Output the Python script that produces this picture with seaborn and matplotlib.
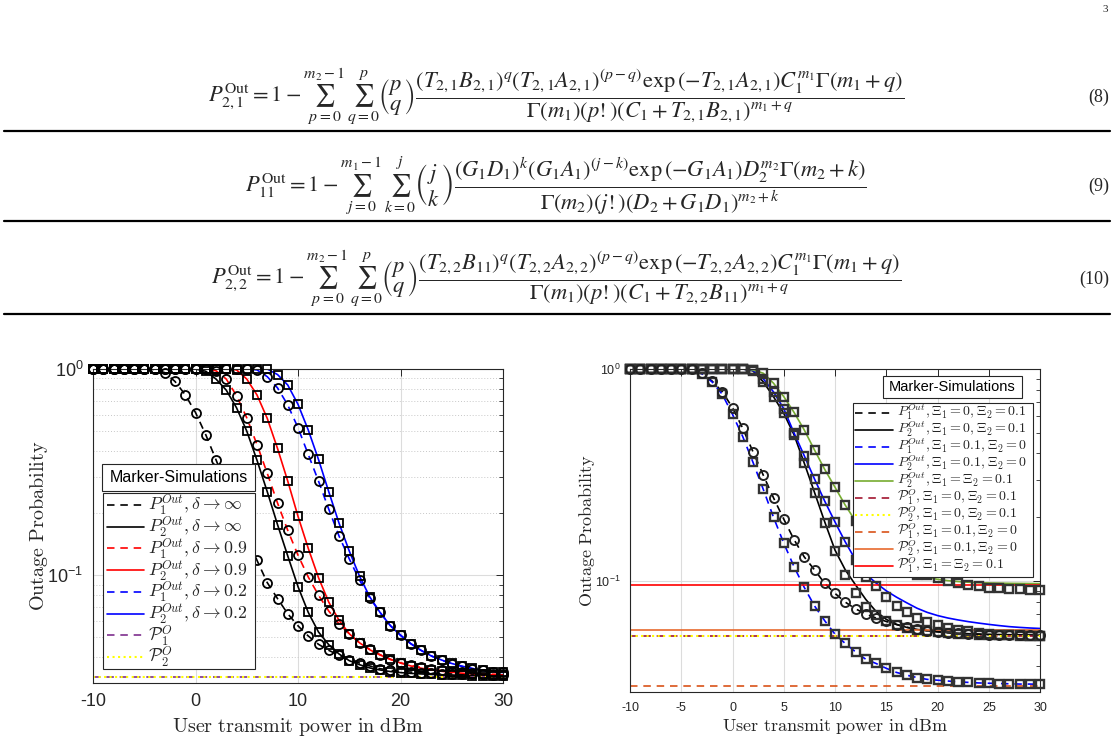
import numpy as np
import matplotlib
matplotlib.use('Agg')
import matplotlib.pyplot as plt
from matplotlib.lines import Line2D
from matplotlib.patches import Rectangle
from matplotlib.ticker import LogLocator, NullFormatter, FixedLocator
import seaborn as sns

# ---------------- data ----------------
power_dbm = list(range(-10, 31))

# left panel: effect of delta
p1_inf = [1.0, 1.0, 1.0, 1.0, 1.0, 1.0, 0.995, 0.96, 0.87, 0.75, 0.615, 0.48, 0.363, 0.27,
          0.205, 0.155, 0.118, 0.092, 0.077, 0.065, 0.0568, 0.0507, 0.0462, 0.0432, 0.0409,
          0.039, 0.0375, 0.0363, 0.0352, 0.0346, 0.0342, 0.0339, 0.0336, 0.0334, 0.0333,
          0.0332, 0.0331, 0.0330, 0.0330, 0.0329, 0.0329]
p2_inf = [1.0, 1.0, 1.0, 1.0, 1.0, 1.0, 1.0, 1.0, 1.0, 1.0, 1.0, 0.975, 0.894, 0.79, 0.649,
          0.50, 0.361, 0.254, 0.176, 0.124, 0.088, 0.066, 0.053, 0.046, 0.0415, 0.0385,
          0.0368, 0.0355, 0.0347, 0.0341, 0.0337, 0.0334, 0.0332, 0.0330, 0.0329, 0.0328,
          0.0327, 0.0326, 0.0326, 0.0325, 0.0325]
p1_09 = [1.0, 1.0, 1.0, 1.0, 1.0, 1.0, 1.0, 1.0, 1.0, 1.0, 1.0, 1.0, 0.98, 0.894, 0.743,
         0.58, 0.43, 0.312, 0.224, 0.165, 0.125, 0.098, 0.08, 0.067, 0.058, 0.052, 0.047,
         0.0437, 0.0412, 0.039, 0.0376, 0.0365, 0.0357, 0.035, 0.0345, 0.0341, 0.0338,
         0.0335, 0.0333, 0.0331, 0.033]
p2_09 = [1.0, 1.0, 1.0, 1.0, 1.0, 1.0, 1.0, 1.0, 1.0, 1.0, 1.0, 1.0, 1.0, 1.0, 0.99, 0.894,
         0.748, 0.576, 0.412, 0.286, 0.193, 0.135, 0.0973, 0.074, 0.0605, 0.052, 0.047,
         0.0435, 0.041, 0.0392, 0.0375, 0.0363, 0.0354, 0.0347, 0.0342, 0.0338, 0.0335,
         0.0332, 0.033, 0.0329, 0.0328]
p1_02 = [1.0, 1.0, 1.0, 1.0, 1.0, 1.0, 1.0, 1.0, 1.0, 1.0, 1.0, 1.0, 1.0, 1.0, 1.0, 1.0,
         0.99, 0.918, 0.81, 0.669, 0.519, 0.385, 0.286, 0.209, 0.155, 0.12, 0.0946, 0.0776,
         0.066, 0.057, 0.0513, 0.0466, 0.0432, 0.0406, 0.0387, 0.0372, 0.0361, 0.0352,
         0.0345, 0.034, 0.0338]
p2_02 = [1.0, 1.0, 1.0, 1.0, 1.0, 1.0, 1.0, 1.0, 1.0, 1.0, 1.0, 1.0, 1.0, 1.0, 1.0, 1.0,
         1.0, 1.0, 0.94, 0.836, 0.674, 0.506, 0.364, 0.254, 0.179, 0.131, 0.099, 0.0785,
         0.066, 0.057, 0.051, 0.0465, 0.0432, 0.0406, 0.0388, 0.0373, 0.0362, 0.0353,
         0.0346, 0.0341, 0.0338]
floor_left = [0.032, 0.032]   # P1^O, P2^O

# right panel: effect of Xi
r_p1_a = [1.0, 1.0, 1.0, 1.0, 1.0, 1.0, 1.0, 0.955, 0.878, 0.782, 0.657, 0.525, 0.407,
          0.316, 0.247, 0.196, 0.157, 0.13, 0.113, 0.0975, 0.0875, 0.0796, 0.074, 0.07,
          0.067, 0.0645, 0.0624, 0.0606, 0.0593, 0.0584, 0.0577, 0.0571, 0.0567, 0.0564,
          0.0561, 0.0559, 0.0558, 0.0557, 0.0556, 0.0555, 0.0555]
r_p2_a = [1.0, 1.0, 1.0, 1.0, 1.0, 1.0, 1.0, 1.0, 1.0, 1.0, 1.0, 1.0, 0.98, 0.87, 0.74,
          0.618, 0.49, 0.36, 0.262, 0.19, 0.14, 0.113, 0.096, 0.082, 0.072, 0.066, 0.0625,
          0.0605, 0.0592, 0.0583, 0.0577, 0.0572, 0.0568, 0.0565, 0.0563, 0.0561, 0.056,
          0.0559, 0.0558, 0.0557, 0.0556]
r_p2_a_sim = [1.0, 1.0, 1.0, 1.0, 1.0, 1.0, 1.0, 1.0, 1.0, 1.0, 1.0, 1.0, 0.98, 0.87, 0.74,
              0.618, 0.49, 0.36, 0.26, 0.188, 0.138, 0.107, 0.0875, 0.0757, 0.069, 0.0648,
              0.062, 0.0604, 0.059, 0.058, 0.0574, 0.0569, 0.0565, 0.0562, 0.0559, 0.0557,
              0.0555, 0.0554, 0.0553, 0.0552, 0.0552]
r_p1_b = [1.0, 1.0, 1.0, 1.0, 1.0, 1.0, 1.0, 0.95, 0.87, 0.76, 0.611, 0.48, 0.363, 0.271,
          0.2, 0.151, 0.117, 0.0934, 0.0764, 0.065, 0.0562, 0.0508, 0.0464, 0.0428, 0.0409,
          0.0388, 0.0371, 0.036, 0.0351, 0.0344, 0.0341, 0.0338, 0.0335, 0.0333, 0.0331,
          0.033, 0.0329, 0.0328, 0.0327, 0.0327, 0.0326]
r_p2_b = [1.0, 1.0, 1.0, 1.0, 1.0, 1.0, 1.0, 1.0, 1.0, 1.0, 1.0, 1.0, 0.985, 0.9, 0.78, 0.65,
          0.5, 0.39, 0.303, 0.238, 0.19, 0.153, 0.126, 0.108, 0.098, 0.09, 0.084, 0.079,
          0.0745, 0.0712, 0.0688, 0.067, 0.0656, 0.0644, 0.0634, 0.0625, 0.0617, 0.061,
          0.0605, 0.0601, 0.0598]
r_p2_b_sim = [1.0, 1.0, 1.0, 1.0, 1.0, 1.0, 1.0, 1.0, 1.0, 1.0, 1.0, 1.0, 0.985, 0.9, 0.78,
              0.65, 0.5, 0.39, 0.303, 0.238, 0.19, 0.153, 0.126, 0.105, 0.0947, 0.0843,
              0.0762, 0.0716, 0.0667, 0.0643, 0.062, 0.0602, 0.0589, 0.058, 0.0572, 0.0565,
              0.056, 0.0557, 0.0555, 0.0553, 0.0552]
r_p2_c = [1.0, 1.0, 1.0, 1.0, 1.0, 1.0, 1.0, 1.0, 1.0, 1.0, 1.0, 1.0, 0.99, 0.955, 0.857,
          0.741, 0.625, 0.516, 0.415, 0.336, 0.277, 0.228, 0.192, 0.165, 0.145, 0.13, 0.119,
          0.112, 0.107, 0.104, 0.102, 0.1005, 0.0995, 0.0988, 0.0983, 0.098, 0.0978,
          0.0976, 0.0975, 0.0974, 0.0973]
r_p2_c_sim = [1.0, 1.0, 1.0, 1.0, 1.0, 1.0, 1.0, 1.0, 1.0, 1.0, 1.0, 1.0, 0.99, 0.955, 0.857,
              0.741, 0.625, 0.516, 0.415, 0.336, 0.277, 0.228, 0.192, 0.165, 0.145, 0.13,
              0.119, 0.112, 0.107, 0.1067, 0.103, 0.0999, 0.0975, 0.0958, 0.0947, 0.093,
              0.0925, 0.092, 0.0915, 0.091, 0.091]
# floors: P1^O(0,0.1), P2^O(0,0.1), P1^O(0.1,0), P2^O(0.1,0), P1^O(0.1,0.1)
floor_right = [0.0552, 0.0552, 0.032, 0.0587, 0.0957]

left_labels = [r'$P_1^{Out}, \delta \rightarrow \infty$', r'$P_2^{Out}, \delta \rightarrow \infty$',
               r'$P_1^{Out}, \delta \rightarrow 0.9$', r'$P_2^{Out}, \delta \rightarrow 0.9$',
               r'$P_1^{Out}, \delta \rightarrow 0.2$', r'$P_2^{Out}, \delta \rightarrow 0.2$',
               r'$\mathcal{P}_1^{O}$', r'$\mathcal{P}_2^{O}$']
right_labels = [r'$P_1^{Out}, \Xi_1 = 0, \Xi_2 = 0.1$', r'$P_2^{Out}, \Xi_1 = 0, \Xi_2 = 0.1$',
                r'$P_1^{Out}, \Xi_1 = 0.1, \Xi_2 = 0$', r'$P_2^{Out}, \Xi_1 = 0.1, \Xi_2 = 0$',
                r'$P_2^{Out}, \Xi_1 = \Xi_2 = 0.1$',
                r'$\mathcal{P}_1^{O}, \Xi_1 = 0, \Xi_2 = 0.1$', r'$\mathcal{P}_2^{O}, \Xi_1 = 0, \Xi_2 = 0.1$',
                r'$\mathcal{P}_1^{O}, \Xi_1 = 0.1, \Xi_2 = 0$', r'$\mathcal{P}_2^{O}, \Xi_1 = 0.1, \Xi_2 = 0$',
                r'$\mathcal{P}_1^{O}, \Xi_1 = \Xi_2 = 0.1$']

BLUE, RED, GREEN = '#0000ff', '#ff0000', '#77ac30'
PURPLE, YELLOW, DRED, ORANGE, ORANGE2 = '#7e2f8e', '#ffff00', '#a2142f', '#d95319', '#e8692d'
DASH = (4.5, 3.5)
LW = 1.2

# ---------------- style ----------------
sns.set_theme(style='white')
plt.rcParams['font.family'] = ['Liberation Sans', 'DejaVu Sans']
plt.rcParams['mathtext.fontset'] = 'cm'
plt.rcParams['axes.unicode_minus'] = False

W, H = 1116, 751
fig = plt.figure(figsize=(W / 100, H / 100), dpi=100)


def fx(px):
    return px / W


def fy(py):
    return 1 - py / H


# ---------------- equations ----------------
eq8 = (r"$P_{2,1}^{\mathrm{Out}}=1-\sum_{p=0}^{m_2-1}\,\sum_{q=0}^{p}\genfrac{(}{)}{0}{0}{p}{q}"
       r"\dfrac{\left(T_{2,1}B_{2,1}\right)^{q}\left(T_{2,1}A_{2,1}\right)^{(p-q)}\exp\left(-T_{2,1}A_{2,1}\right)C_1^{m_1}\Gamma\left(m_1+q\right)}"
       r"{\Gamma(m_1)(p!)\left(C_1+T_{2,1}B_{2,1}\right)^{m_1+q}}$")
eq9 = (r"$P_{11}^{\mathrm{Out}}=1-\sum_{j=0}^{m_1-1}\,\sum_{k=0}^{j}\genfrac{(}{)}{0}{0}{j}{k}"
       r"\dfrac{\left(G_1D_1\right)^{k}\left(G_1A_1\right)^{(j-k)}\exp\left(-G_1A_1\right)D_2^{m_2}\Gamma\left(m_2+k\right)}"
       r"{\Gamma(m_2)(j!)\left(D_2+G_1D_1\right)^{m_2+k}}$")
eq10 = (r"$P_{2,2}^{\mathrm{Out}}=1-\sum_{p=0}^{m_2-1}\,\sum_{q=0}^{p}\genfrac{(}{)}{0}{0}{p}{q}"
        r"\dfrac{\left(T_{2,2}B_{11}\right)^{q}\left(T_{2,2}A_{2,2}\right)^{(p-q)}\exp\left(-T_{2,2}A_{2,2}\right)C_1^{m_1}\Gamma\left(m_1+q\right)}"
        r"{\Gamma(m_1)(p!)\left(C_1+T_{2,2}B_{11}\right)^{m_1+q}}$")

for eq, num, yc, yr in [(eq8, '(8)', 97, 131), (eq9, '(9)', 186, 221), (eq10, '(10)', 279, 314)]:
    fig.text(fx(556), fy(yc), eq, ha='center', va='center', fontsize=16.2, math_fontfamily='stix')
    fig.text(fx(1109), fy(yc), num, ha='right', va='center', fontsize=13, family='Liberation Serif')
    fig.add_artist(Line2D([fx(4), fx(1110)], [fy(yr), fy(yr)], color='black', lw=1.6))

fig.text(fx(1108), fy(10), '3', ha='right', va='center', fontsize=8, family='Liberation Serif')

# ---------------- axes ----------------
ax1 = fig.add_axes([fx(93), fy(683), fx(410), 314 / H])
ax2 = fig.add_axes([fx(630), fy(692), fx(410), 323 / H])


def style_axes(ax, xticks, labelsize, minor_grid):
    ax.set_yscale('log')
    ax.set_xlim(-10, 30)
    ax.set_ylim(0.03, 1)
    ax.set_xticks(xticks)
    ax.set_xticklabels([str(t) for t in xticks])
    ax.yaxis.set_major_locator(FixedLocator([0.1, 1.0]))
    ax.yaxis.set_minor_locator(LogLocator(base=10, subs=np.arange(2, 10)))
    ax.yaxis.set_minor_formatter(NullFormatter())
    ax.tick_params(which='both', direction='in', top=True, right=True, colors='#262626',
                   labelsize=labelsize, pad=7)
    ax.tick_params(which='major', length=5, width=0.7)
    ax.tick_params(which='minor', length=3, width=0.6)
    ax.grid(True, which='major', color='#dcdcdc', lw=0.8, ls='-')
    if minor_grid:
        ax.grid(True, which='minor', axis='y', color='#c8c8c8', lw=0.7, ls=(0, (1, 2)))
    for s in ax.spines.values():
        s.set_color('#262626')
        s.set_linewidth(0.8)
    ax.set_axisbelow(True)


def draw_curve(ax, vals, col, dashed):
    sns.lineplot(x=power_dbm, y=vals, ax=ax, color=col, lw=LW, zorder=2)
    if dashed:
        ax.lines[-1].set_dashes(DASH)


def draw_legend(entries, labels, box, handle_x, text_x, y0, dy, fontsize):
    x0, y0b, x1, y1b = box
    fig.add_artist(Rectangle((fx(x0), fy(y1b)), fx(x1 - x0), (y1b - y0b) / H,
                             transform=fig.transFigure, facecolor='white',
                             edgecolor='#262626', lw=0.8, zorder=4))
    for i, ((col, ls), lab) in enumerate(zip(entries, labels)):
        y = y0 + i * dy
        ln = Line2D([fx(handle_x[0]), fx(handle_x[1])], [fy(y), fy(y)], color=col,
                    lw=LW + (0.3 if ls == ':' else 0), ls=ls, zorder=5)
        if ls == '--':
            ln.set_dashes(DASH)
        fig.add_artist(ln)
        fig.text(fx(text_x), fy(y), lab, ha='left', va='center', fontsize=fontsize,
                 color='#262626', zorder=6)


def title_box(x0, y0, x1, y1, fontsize):
    fig.add_artist(Rectangle((fx(x0), fy(y1)), fx(x1 - x0), (y1 - y0) / H,
                             transform=fig.transFigure, facecolor='white',
                             edgecolor='#262626', lw=0.8, zorder=4))
    fig.text(fx((x0 + x1) / 2), fy((y0 + y1) / 2), 'Marker-Simulations', ha='center',
             va='center', fontsize=fontsize, color='black', zorder=6)


style_axes(ax1, [-10, 0, 10, 20, 30], 13, True)
style_axes(ax2, list(range(-10, 31, 5)), 9, False)

# ---------------- left panel ----------------
left_series = [(p1_inf, 'black', True, 'o'), (p2_inf, 'black', False, 's'),
               (p1_09, RED, True, 'o'), (p2_09, RED, False, 's'),
               (p1_02, BLUE, True, 'o'), (p2_02, BLUE, False, 's')]
for vals, col, dashed, mk in left_series:
    draw_curve(ax1, vals, col, dashed)
for vals, col, dashed, mk in left_series:
    ax1.plot(power_dbm, vals, ls='none', marker=mk, ms=6.5 if mk == 'o' else 5.8,
             mfc='none', mec='black', mew=1.3, clip_on=False, zorder=3)
ax1.axhline(floor_left[0], color=PURPLE, lw=LW, ls='--', dashes=DASH, zorder=2)
ax1.axhline(floor_left[1], color=YELLOW, lw=LW + 0.3, ls=':', zorder=2)

ax1.set_xlabel(r'$\mathrm{User\ transmit\ power\ in\ dBm}$', fontsize=14.5, math_fontfamily='cm',
               color='#262626')
ax1.set_ylabel(r'$\mathrm{Outage\ Probability}$', fontsize=14.5, math_fontfamily='cm',
               color='#262626')
ax1.xaxis.set_label_coords(0.5, -0.105)
ax1.yaxis.set_label_coords(-0.105, 0.5)

left_entries = [('black', '--'), ('black', '-'), (RED, '--'), (RED, '-'), (BLUE, '--'),
                (BLUE, '-'), (PURPLE, '--'), (YELLOW, ':')]
draw_legend(left_entries, left_labels, (103, 493, 255, 669), (107, 144), 148, 505, 21.7, 12.8)
title_box(102, 464, 255, 491, 11.5)

# ---------------- right panel ----------------
for vals, col, dashed in [(r_p1_a, 'black', True), (r_p2_a, 'black', False),
                          (r_p1_b, BLUE, True), (r_p2_b, BLUE, False), (r_p2_c, GREEN, False)]:
    draw_curve(ax2, vals, col, dashed)

right_entries = [('black', '--'), ('black', '-'), (BLUE, '--'), (BLUE, '-'), (GREEN, '-'),
                 (DRED, '--'), (YELLOW, ':'), (ORANGE, '--'), (ORANGE2, '-'), (RED, '-')]
for v, (col, ls) in zip(floor_right, right_entries[5:]):
    line = ax2.axhline(v, color=col, lw=LW + (0.3 if ls == ':' else 0), ls=ls, zorder=2)
    if ls == '--':
        line.set_dashes(DASH)

for vals in [r_p2_a_sim, r_p1_b, r_p2_b_sim, r_p2_c_sim]:
    ax2.plot(power_dbm, vals, ls='none', marker='s', ms=6, mfc='none', mec='#333333',
             mew=1.7, clip_on=False, zorder=3)
ax2.plot(power_dbm, r_p1_a, ls='none', marker='o', ms=6.5, mfc='none', mec='#222222',
         mew=1.4, clip_on=False, zorder=3)

ax2.set_xlabel(r'$\mathrm{User\ transmit\ power\ in\ dBm}$', fontsize=13, math_fontfamily='cm',
               color='#262626')
ax2.set_ylabel(r'$\mathrm{Outage\ Probability}$', fontsize=13, math_fontfamily='cm',
               color='#262626')
ax2.xaxis.set_label_coords(0.5, -0.075)
ax2.yaxis.set_label_coords(-0.08, 0.5)

draw_legend(right_entries, right_labels, (853, 403, 1033, 577), (855, 893), 897, 412.5, 17.0,
            10.1)
title_box(883, 376, 1022, 398, 10.5)

fig.savefig('out.png', dpi=100)
